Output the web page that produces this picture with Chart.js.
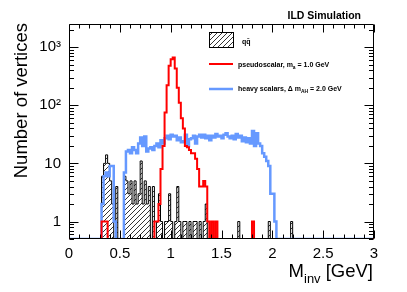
<!DOCTYPE html>
<html>
<head>
<meta charset="utf-8">
<script src="https://cdn.jsdelivr.net/npm/chart.js@4.4.0/dist/chart.umd.min.js"></script>
<style>
  html, body { margin: 0; padding: 0; background: #fff; }
  #wrap { width: 407px; height: 292px; position: relative; }
</style>
</head>
<body>
<div id="wrap"><canvas id="minvChart"></canvas></div>
<script>
// Invariant mass of displaced vertices, 0.02 GeV bins from 0 to 3 GeV
const BIN_WIDTH = 0.02;
const Y_MIN = 0.5;     // empty bins sit on the frame bottom, like ROOT draws them
const Y_MAX = 2500;
const X_TICKS = [0, 0.5, 1, 1.5, 2, 2.5, 3];
const Y_TICKS = [1, 10, 100, 1000];
const Y_TICK_LABELS = ['1', '10', '10²', '10³'];

// counts per bin, 10 bins per row (row start in GeV)
const qqbar = [
    0, 0, 0, 0, 0, 0, 0, 0, 0, 0,       // 0.0
    0, 0, 0, 0, 0, 0, 6, 10, 14, 10,    // 0.2
    5, 2, 0, 4, 0, 0, 0, 6, 5, 3,       // 0.4
    5, 2, 5, 2, 3, 11, 2, 5, 2, 4,      // 0.6
    0, 4, 0, 1, 3, 1, 0, 1, 1, 3,       // 0.8
    1, 0, 1, 4, 1, 0, 1, 1, 0, 1,       // 1.0
    0, 1, 1, 0, 1, 0, 1, 2, 0, 0,       // 1.2
    0, 0, 0, 0, 0, 0, 0, 0, 0, 0,       // 1.4
    0, 0, 0, 1, 0, 0, 0, 0, 0, 0,       // 1.6
    0, 0, 0, 0, 0, 0, 0, 0, 1, 0,       // 1.8
    0, 0, 0, 0, 0, 0, 0, 0, 0, 1,       // 2.0
    0, 0, 0, 0, 0, 0, 0, 0, 0, 0,       // 2.2
    0, 0, 0, 0, 0, 0, 0, 0, 0, 0,       // 2.4
    0, 0, 0, 0, 0, 0, 0, 0, 0, 0,       // 2.6
    0, 0, 0, 0, 0, 0, 0, 0, 0, 0        // 2.8
];

const pseudoscalar = [
    0, 0, 0, 0, 0, 0, 0, 0, 0, 0,               // 0.0
    0, 0, 0, 0, 0, 0, 1, 1, 1, 0,               // 0.2
    0, 0, 0, 0, 0, 0, 0, 0, 0, 0,               // 0.4
    0, 0, 0, 0, 0, 0, 0, 0, 0, 0,               // 0.6
    0, 0, 1, 1, 2, 8, 20, 75, 220, 480,         // 0.8
    620, 660, 430, 200, 110, 60, 40, 20, 19, 17, // 1.0
    15, 15, 12, 8, 4, 4, 5, 4, 1, 0,            // 1.2
    1, 0, 1, 0, 0, 0, 0, 0, 0, 0,               // 1.4
    0, 0, 0, 0, 0, 0, 0, 0, 0, 0,               // 1.6
    1, 0, 0, 0, 0, 0, 0, 0, 0, 0,               // 1.8
    0, 0, 0, 0, 0, 0, 0, 0, 0, 0,               // 2.0
    0, 0, 0, 0, 0, 0, 0, 0, 0, 0,               // 2.2
    0, 0, 0, 0, 0, 0, 0, 0, 0, 0,               // 2.4
    0, 0, 0, 0, 0, 0, 0, 0, 0, 0,               // 2.6
    0, 0, 0, 0, 0, 0, 0, 0, 0, 0                // 2.8
];

const heavyScalars = [
    0, 0, 0, 0, 0, 0, 0, 0, 0, 0,           // 0.0
    0, 0, 0, 0, 0, 0, 2, 6, 7, 6,           // 0.2
    9, 9, 1, 0, 0, 0, 0, 7, 16, 17,         // 0.4
    15, 19, 17, 15, 22, 28, 20, 29, 16, 18, // 0.6
    19, 17, 20, 22, 19, 25, 22, 27, 30, 26, // 0.8
    31, 29, 30, 25, 28, 23, 24, 31, 20, 26, // 1.0
    27, 30, 22, 29, 31, 28, 31, 27, 30, 25, // 1.2
    30, 28, 32, 29, 30, 27, 31, 33, 29, 27, // 1.4
    30, 26, 32, 28, 30, 24, 28, 23, 27, 22, // 1.6
    36, 20, 33, 22, 20, 15, 13, 11, 9, 3,   // 1.8
    3, 1, 0, 0, 0, 0, 0, 0, 0, 0,           // 2.0
    0, 0, 0, 0, 0, 0, 0, 0, 0, 0,           // 2.2
    0, 0, 0, 0, 0, 0, 0, 0, 0, 0,           // 2.4
    0, 0, 0, 0, 0, 0, 0, 0, 0, 0,           // 2.6
    0, 0, 0, 0, 0, 0, 0, 0, 0, 0            // 2.8
];

const FONT = '"Liberation Sans", Arial, Helvetica, sans-serif';
const RED = '#ff0000';
const BLUE = '#6699ff';

// histogram outline: one point per lower bin edge, plus the closing edge
function toSteps(counts) {
    const pts = counts.map((c, i) => ({ x: i * BIN_WIDTH, y: Math.max(c, Y_MIN) }));
    pts.push({ x: counts.length * BIN_WIDTH, y: pts[pts.length - 1].y });
    return pts;
}

function makeHatch() {
    const c = document.createElement('canvas');
    c.width = 5; c.height = 5;
    const g = c.getContext('2d');
    g.strokeStyle = '#000';
    g.lineWidth = 0.8;
    g.beginPath();
    g.moveTo(0, 5); g.lineTo(5, 0);
    g.moveTo(-1, 1); g.lineTo(1, -1);
    g.moveTo(4, 6); g.lineTo(6, 4);
    g.stroke();
    return g.createPattern(c, 'repeat');
}
const hatch = makeHatch();

// draws text with subscript parts, returns end x
function richText(ctx, parts, x, y, size, weight) {
    let cx = x;
    parts.forEach(p => {
        const s = p.sub ? size * 0.7 : size;
        ctx.font = `${weight} ${s}px ${FONT}`;
        ctx.fillText(p.t, cx, p.sub ? y + size * 0.3 : y);
        cx += ctx.measureText(p.t).width;
    });
    return cx;
}

function richWidth(ctx, parts, size, weight) {
    let w = 0;
    parts.forEach(p => {
        ctx.font = `${weight} ${p.sub ? size * 0.7 : size}px ${FONT}`;
        w += ctx.measureText(p.t).width;
    });
    return w;
}

// ROOT style frame: box plus inward ticks on all four sides
const rootFrame = {
    id: 'rootFrame',
    afterDatasetsDraw(chart) {
        const { ctx, chartArea: a, scales: { x, y } } = chart;
        ctx.save();
        ctx.strokeStyle = '#000';
        ctx.lineWidth = 1;
        ctx.beginPath();
        const L = Math.round(a.left) + 0.5, R = Math.round(a.right) - 0.5;
        const T = Math.round(a.top) + 0.5, B = Math.round(a.bottom) - 0.5;
        ctx.rect(L, T, R - L, B - T);
        for (let k = 0; k <= 30; k++) {
            const px = Math.round(x.getPixelForValue(k / 10)) + 0.5;
            const len = k % 5 === 0 ? 8 : 4;
            ctx.moveTo(px, B); ctx.lineTo(px, B - len);
            ctx.moveTo(px, T); ctx.lineTo(px, T + len);
        }
        [0.1, 1, 10, 100, 1000].forEach(d => {
            for (let m = 1; m <= 9; m++) {
                const v = m * d;
                if (v < Y_MIN || v > Y_MAX) continue;
                const py = Math.round(y.getPixelForValue(v)) + 0.5;
                const len = m === 1 ? 9 : 4.5;
                ctx.moveTo(L, py); ctx.lineTo(L + len, py);
                ctx.moveTo(R, py); ctx.lineTo(R - len, py);
            }
        });
        ctx.stroke();
        ctx.restore();
    },
    afterDraw(chart) {
        const { ctx } = chart;
        ctx.save();
        ctx.fillStyle = '#000';
        ctx.textBaseline = 'alphabetic';

        // header
        ctx.font = `bold 10.5px ${FONT}`;
        ctx.textAlign = 'right';
        ctx.fillText('ILD Simulation', 361, 19);

        // y title
        ctx.save();
        ctx.translate(27, 23);
        ctx.rotate(-Math.PI / 2);
        ctx.font = `18.5px ${FONT}`;
        ctx.textAlign = 'right';
        ctx.fillText('Number of vertices', 0, 0);
        ctx.restore();

        // x title
        ctx.textAlign = 'left';
        const xt = [{ t: 'M' }, { t: 'inv', sub: true }, { t: ' [GeV]' }];
        const w = richWidth(ctx, xt, 18.5, 'normal');
        richText(ctx, xt, 373 - w, 277, 18.5, 'normal');

        // legend
        ctx.fillStyle = hatch;
        ctx.fillRect(209, 32, 24, 15);
        ctx.strokeStyle = '#000';
        ctx.lineWidth = 1;
        ctx.strokeRect(209.5, 32.5, 24, 15);
        ctx.lineWidth = 2;
        ctx.strokeStyle = RED;
        ctx.beginPath(); ctx.moveTo(209, 64); ctx.lineTo(233, 64); ctx.stroke();
        ctx.strokeStyle = BLUE;
        ctx.lineWidth = 2.5;
        ctx.beginPath(); ctx.moveTo(209, 89); ctx.lineTo(233, 89); ctx.stroke();

        ctx.fillStyle = '#000';
        richText(ctx, [{ t: 'qq\u0304' }], 242, 44, 7, 'bold');
        richText(ctx, [{ t: 'pseudoscalar, m' }, { t: 'a', sub: true }, { t: ' = 1.0 GeV' }], 238, 66.5, 7, 'bold');
        richText(ctx, [{ t: 'heavy scalars, \u0394 m' }, { t: 'AH', sub: true }, { t: ' = 2.0 GeV' }], 238, 91, 7, 'bold');
        ctx.restore();
    }
};

new Chart(document.getElementById('minvChart'), {
    type: 'line',
    data: {
        datasets: [
            {
                label: 'pseudoscalar',
                data: toSteps(pseudoscalar),
                borderColor: RED,
                borderWidth: 2,
                stepped: true,
                fill: false,
                order: 1
            },
            {
                label: 'heavy scalars',
                data: toSteps(heavyScalars),
                borderColor: BLUE,
                borderWidth: 2.5,
                stepped: true,
                fill: false,
                order: 2
            },
            {
                label: 'qq',
                data: toSteps(qqbar),
                borderColor: '#000',
                borderWidth: 1,
                backgroundColor: hatch,
                stepped: true,
                fill: 'start',
                order: 3
            }
        ]
    },
    options: {
        responsive: true,
        maintainAspectRatio: false,
        animation: false,
        events: [],
        elements: { point: { radius: 0 }, line: { tension: 0 } },
        layout: { padding: { left: 0, right: 33, top: 24, bottom: 0 } },
        plugins: { legend: { display: false }, tooltip: { enabled: false }, title: { display: false } },
        scales: {
            x: {
                type: 'linear',
                min: 0,
                max: 3,
                afterFit: s => { s.height = 53; },
                afterBuildTicks: s => { s.ticks = X_TICKS.map(v => ({ value: v })); },
                grid: { display: false, drawTicks: false },
                border: { display: false },
                ticks: {
                    padding: 6,
                    color: '#000',
                    font: { family: FONT, size: 15 },
                    maxRotation: 0,
                    callback: v => String(v)
                }
            },
            y: {
                type: 'logarithmic',
                min: Y_MIN,
                max: Y_MAX,
                afterFit: s => { s.width = 69; },
                afterBuildTicks: s => { s.ticks = Y_TICKS.map(v => ({ value: v })); },
                grid: { display: false, drawTicks: false },
                border: { display: false },
                ticks: {
                    padding: 8,
                    color: '#000',
                    font: { family: FONT, size: 15 },
                    callback: v => Y_TICK_LABELS[Y_TICKS.indexOf(v)]
                }
            }
        }
    },
    plugins: [rootFrame]
});
</script>
</body>
</html>
